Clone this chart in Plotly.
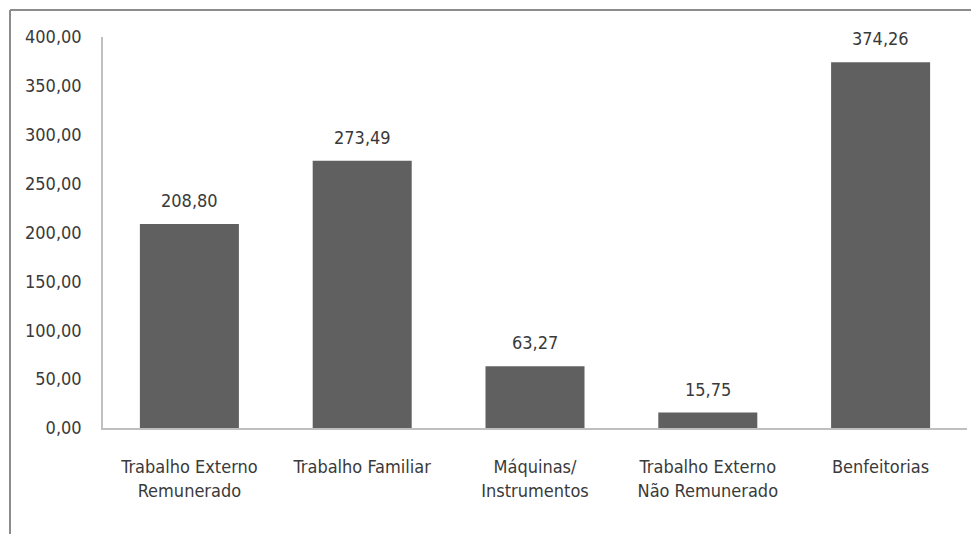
import plotly.graph_objects as go

categories = ["Trabalho Externo<br>Remunerado", "Trabalho Familiar", "Máquinas/<br>Instrumentos",
              "Trabalho Externo<br>Não Remunerado", "Benfeitorias"]
values = [208.80, 273.49, 63.27, 15.75, 374.26]
y_ticks = [0, 50, 100, 150, 200, 250, 300, 350, 400]

FONT = "DejaVu Sans Condensed, Liberation Sans Narrow, Arial Narrow, sans-serif"
TXT = "#3a3a3a"
FS = 18

fig = go.Figure()
fig.add_trace(go.Bar(
    x=categories, y=values,
    marker=dict(color="#606060", line=dict(width=0)),
    hoverinfo="skip",
))

for c, v in zip(categories, values):
    fig.add_annotation(x=c, y=v, text=f"{v:.2f}".replace(".", ","), showarrow=False,
                       yanchor="bottom", yshift=11, font=dict(family=FONT, size=FS, color=TXT))

# page body has an 8px margin, so the figure is offset by 8px
W, H = 971, 526
L, R, T, B = 95, 12, 29, 106
pw, ph = W - L - R, H - T - B
# outer chart frame (top & left edges visible)
fx0 = (2 - L) / pw
fy1 = (H - B - 2) / ph
fig.add_shape(type="line", xref="paper", yref="paper", x0=fx0, x1=(W - L) / pw + 0.02, y0=fy1, y1=fy1,
              line=dict(color="#8c8c8c", width=2))
fig.add_shape(type="line", xref="paper", yref="paper", x0=fx0, x1=fx0, y0=fy1, y1=-(B + 5) / ph,
              line=dict(color="#8c8c8c", width=2))

fig.update_layout(
    width=W, height=H,
    margin=dict(l=L, r=R, t=T, b=B, autoexpand=False),
    paper_bgcolor="white", plot_bgcolor="white",
    bargap=0.427,
    separators=",.",
    showlegend=False,
    font=dict(family=FONT, size=FS, color=TXT),
    xaxis=dict(showline=True, linecolor="#bfbfbf", linewidth=1.5, ticks="", showgrid=False, automargin=False,
               tickfont=dict(family=FONT, size=FS, color=TXT), ticklabelstandoff=22),
    yaxis=dict(range=[0, 400], tickvals=y_ticks, tickformat=".2f", showline=True, linecolor="#bfbfbf",
               linewidth=1.5, ticks="", showgrid=False, zeroline=False, automargin=False,
               tickfont=dict(family=FONT, size=FS, color=TXT), ticklabelstandoff=16),
)

fig.write_html("out.html")
